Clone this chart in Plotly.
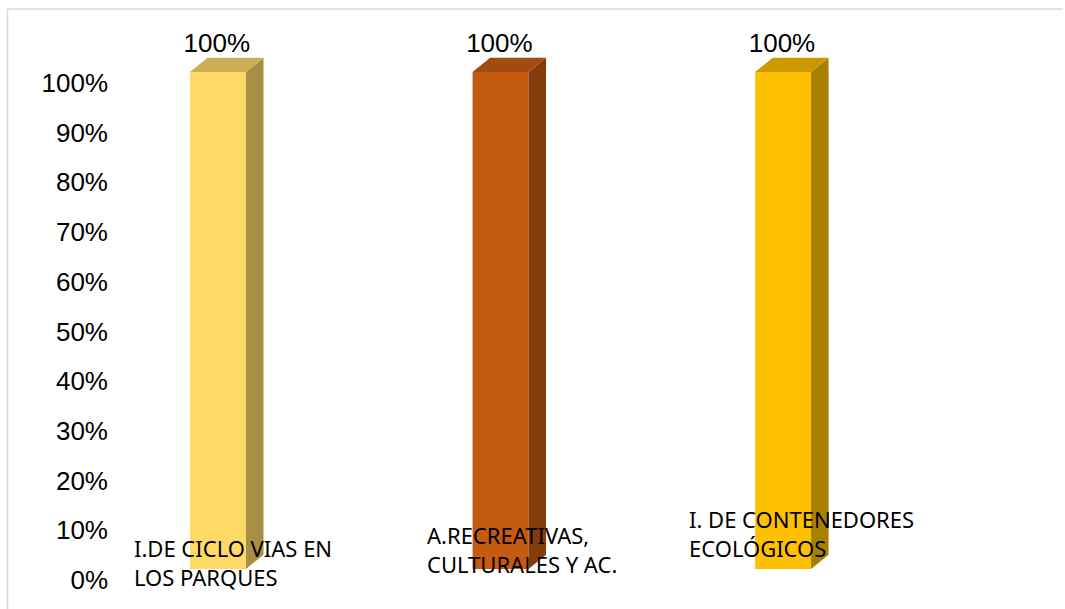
import plotly.graph_objects as go

# ---- data ----
categories = ["I.DE CICLO VIAS EN<br>LOS PARQUES",
              "A.RECREATIVAS,<br>CULTURALES Y AC.",
              "I. DE CONTENEDORES<br>ECOLÓGICOS"]
values = [1.0, 1.0, 1.0]
value_labels = ["100%", "100%", "100%"]
tick_vals = [i / 10 for i in range(11)]

# ---- style ----
front_colors = ["#FFD966", "#C55A11", "#FFC000"]
side_colors = ["#A88F45", "#843C0C", "#A88000"]
top_colors = ["#CBAE55", "#A34B0E", "#CC9A00"]
bar_w = 0.198      # front face width (x units)
dx = 0.062         # depth in x
dy = 0.029         # depth in y
base = 0.022       # front face base offset
label_dx = [-0.304, -0.267, -0.34]
label_y = [0.035, 0.062, 0.093]

W, H = 1065, 609
L, R, T, B = 116, 5, 30, 9
xr = [-0.361, 2.98]
yr = [-0.0402, 1.1066]

xs = list(range(len(categories)))
fig = go.Figure()

# front faces
fig.add_trace(go.Bar(x=xs, y=values, base=[base] * len(values), width=bar_w,
                     marker=dict(color=front_colors, line=dict(width=0)),
                     hoverinfo="skip", showlegend=False))

for i, v in enumerate(values):
    x0 = xs[i] - bar_w / 2
    x1 = xs[i] + bar_w / 2
    y0 = base
    y1 = base + v
    # side face
    fig.add_trace(go.Scatter(x=[x1, x1 + dx, x1 + dx, x1, x1],
                             y=[y0, y0 + dy, y1 + dy, y1, y0],
                             fill="toself", fillcolor=side_colors[i], mode="lines",
                             line=dict(width=0, color=side_colors[i]),
                             hoverinfo="skip", showlegend=False))
    # top face
    fig.add_trace(go.Scatter(x=[x0, x1, x1 + dx, x0 + dx, x0],
                             y=[y1, y1, y1 + dy, y1 + dy, y1],
                             fill="toself", fillcolor=top_colors[i], mode="lines",
                             line=dict(width=0, color=top_colors[i]),
                             hoverinfo="skip", showlegend=False))

# value labels
fig.add_trace(go.Scatter(x=[x - 0.004 for x in xs],
                         y=[base + v + dy + 0.025 for v in values],
                         text=value_labels, mode="text",
                         textfont=dict(family="Liberation Sans, Arial", size=26, color="#000000"),
                         hoverinfo="skip", showlegend=False, cliponaxis=False))

# category labels
for i, c in enumerate(categories):
    fig.add_annotation(x=xs[i] + label_dx[i], y=label_y[i], text=c,
                       xanchor="left", yanchor="middle", align="left",
                       showarrow=False,
                       font=dict(family="Noto Sans", size=22, color="#000000"))

pw = W - L - R
ph = H - T - B
def px_x(p):
    return (p - L) / pw
def px_y(p):
    return 1 - (p - T) / ph

# chart border (top and left)
fig.add_shape(type="line", xref="paper", yref="paper",
              x0=px_x(7.5), x1=px_x(1063), y0=px_y(9), y1=px_y(9),
              line=dict(color="#D9D9D9", width=1.5))
fig.add_shape(type="line", xref="paper", yref="paper",
              x0=px_x(7.5), x1=px_x(7.5), y0=px_y(9), y1=px_y(609),
              line=dict(color="#D9D9D9", width=1.5))

fig.update_layout(
    width=W, height=H,
    margin=dict(l=L, r=R, t=T, b=B),
    paper_bgcolor="white", plot_bgcolor="white",
    showlegend=False,
    xaxis=dict(range=xr, showgrid=False, zeroline=False, showline=False,
               showticklabels=False, ticks=""),
    yaxis=dict(range=yr, tickvals=tick_vals, tickformat=".0%",
               showgrid=False, zeroline=False, showline=False, ticks="",
               tickfont=dict(family="Liberation Sans, Arial", size=26, color="#000000"),
               ticklabelstandoff=7),
)

fig.write_html("out.html", config={"displayModeBar": False},
               post_script="document.body.style.margin='0';document.body.style.overflow='hidden';")
